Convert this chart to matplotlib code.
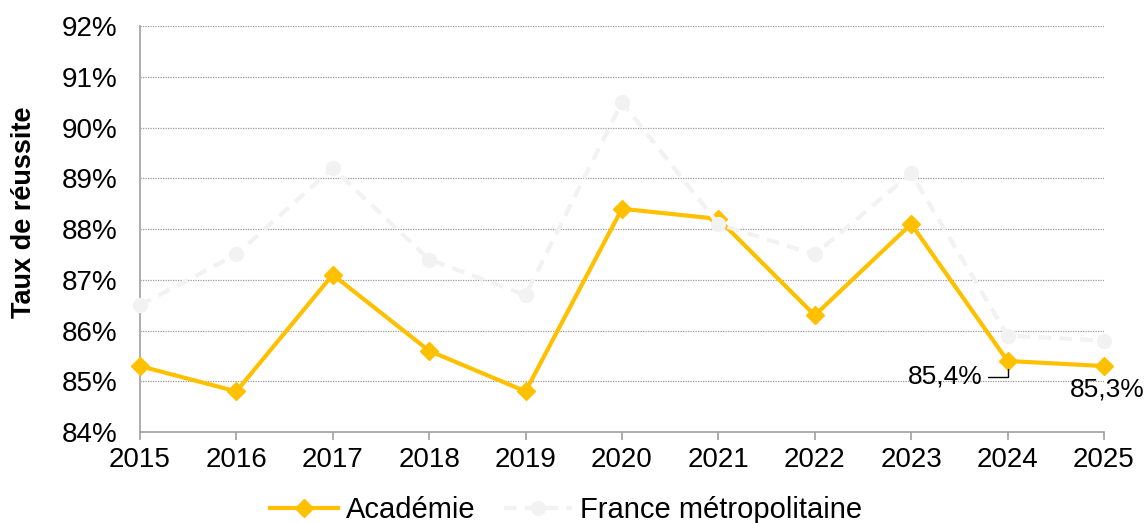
import matplotlib.pyplot as plt
from matplotlib.ticker import FuncFormatter

plt.rcParams['font.family'] = ['Liberation Sans', 'DejaVu Sans']

years = ['2015', '2016', '2017', '2018', '2019', '2020', '2021', '2022', '2023', '2024', '2025']
academie = [85.3, 84.8, 87.1, 85.6, 84.8, 88.4, 88.2, 86.3, 88.1, 85.4, 85.3]
france = [86.5, 87.5, 89.2, 87.4, 86.7, 90.5, 88.1, 87.5, 89.1, 85.9, 85.8]

fig = plt.figure(figsize=(11.47, 5.23), dpi=100)
ax = fig.add_axes([0.122, 0.174, 0.8405, 0.776])

x = list(range(len(years)))

ax.plot(x, academie, color='#FFC000', lw=3, marker='D', markersize=9,
        label='Académie', zorder=3, clip_on=False)
ax.plot(x, france, color='#F2F2F2', lw=3, dashes=(3, 2), marker='o',
        markersize=10, label='France métropolitaine', zorder=4, clip_on=False)

# étiquettes des deux dernières valeurs
ax.annotate('85,4%', xy=(9, academie[9]), xytext=(-18, -11.5),
            textcoords='offset points', ha='right', va='center', fontsize=19,
            arrowprops=dict(arrowstyle='-', color='black', lw=1, shrinkA=2, shrinkB=6,
                            connectionstyle='angle,angleA=0,angleB=90,rad=0'))
ax.annotate('85,3%', xy=(10, academie[10]), xytext=(2, -17),
            textcoords='offset points', ha='center', va='center', fontsize=19)

ax.set_xlim(0, len(years) - 1)
ax.set_ylim(84, 92)
ax.set_xticks(x)
ax.set_xticklabels(years)
ax.set_yticks(range(84, 93))
ax.yaxis.set_major_formatter(FuncFormatter(lambda v, p: f'{int(v)}%'))

ax.grid(axis='y', linestyle=(0, (1, 1)), color='#9a9a9a', lw=0.9)
ax.set_axisbelow(True)
for s in ['top', 'right']:
    ax.spines[s].set_visible(False)
for s in ['left', 'bottom']:
    ax.spines[s].set_color('#a0a0a0')
    ax.spines[s].set_linewidth(1.2)

ax.tick_params(axis='x', direction='out', length=6, color='#a0a0a0', width=1.2,
               labelsize=20, pad=5)
ax.tick_params(axis='y', length=0, labelsize=20, pad=16)

ax.set_ylabel('Taux de réussite', fontsize=19.5, fontweight='bold',
              va='center', ha='center')
ax.yaxis.set_label_coords(-0.12, 0.542)

ax.legend(loc='center', bbox_to_anchor=(566 / 1147, 1 - 510 / 523),
          bbox_transform=fig.transFigure, ncol=2, frameon=False, fontsize=21,
          handlelength=2.33, handletextpad=0.3, columnspacing=0.95)

fig.savefig('out.png', dpi=100)
